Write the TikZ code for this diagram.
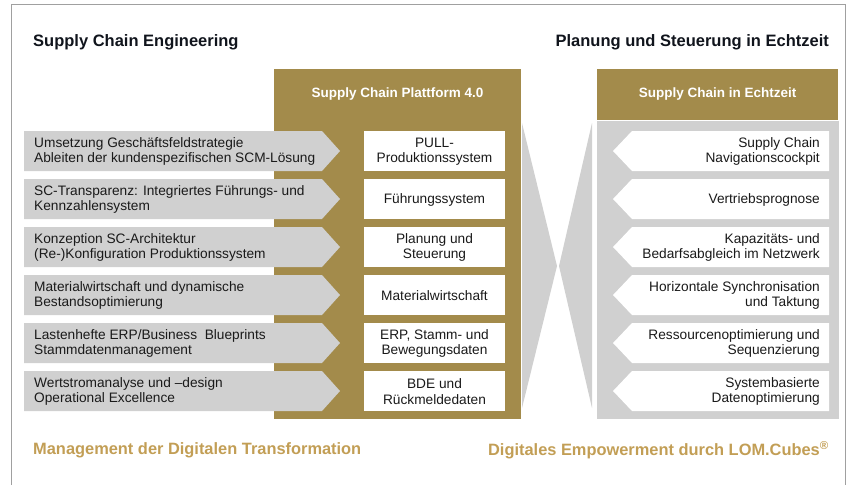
\documentclass[tikz,border=0pt]{standalone}
\usepackage{fontspec}
\setmainfont{Liberation Sans}
\definecolor{gold}{HTML}{A38B4B}
\definecolor{goldtext}{HTML}{C29E55}
\definecolor{lightgrey}{HTML}{D0D0D0}
\definecolor{framegrey}{HTML}{A0A0A0}
\definecolor{txt}{HTML}{1A1A1A}
\definecolor{titletxt}{HTML}{10141C}
\tikzset{
  rowtext/.style={inner sep=0pt, text=txt, font=\fontsize{13.7}{15.5}\selectfont},
  lefttext/.style={rowtext, anchor=west, align=left},
  midtext/.style={rowtext, anchor=center, align=center},
  righttext/.style={rowtext, anchor=east, align=right},
  headtext/.style={inner sep=0pt, text=white, font=\bfseries\fontsize{13.5}{16}\selectfont},
  titletext/.style={inner sep=0pt, text=titletxt, font=\bfseries\fontsize{16.5}{19}\selectfont},
  foottext/.style={inner sep=0pt, text=goldtext, font=\bfseries\fontsize{16.4}{19}\selectfont},
}
\begin{document}
\begin{tikzpicture}[x=1pt,y=-1pt]
\useasboundingbox (0,0) rectangle (850,485);
% frame
\draw[framegrey, line width=1pt] (11,485) -- (11,4) -- (845,4) -- (845,485);
% titles
\node[titletext, anchor=west] (tl) at (33,42) {Supply Chain Engineering};
\node[titletext, anchor=east] (tr) at (829,42) {Planung und Steuerung in Echtzeit};
% panels
\fill[gold] (274,69) rectangle (521,419);
\fill[gold] (597,69) rectangle (838,120);
\fill[lightgrey] (597,121) rectangle (839,419);
\node[headtext] (hl) at (397.5,94) {Supply Chain Plattform 4.0};
\node[headtext] (hr) at (717.5,94) {Supply Chain in Echtzeit};
% hourglass triangles
\fill[lightgrey] (522,123) -- (557,266) -- (522,408) -- cycle;
\fill[lightgrey] (592,123) -- (559,266) -- (592,408) -- cycle;
% rows
\foreach \i/\lt/\mt/\rt in {
  0/{Umsetzung Geschäftsfeldstrategie\\Ableiten der kundenspezifischen SCM-Lösung}/{PULL-\\Produktionssystem}/{Supply Chain\\Navigationscockpit},
  1/{SC-Transparenz: Integriertes Führungs- und\\Kennzahlensystem}/{Führungssystem}/{Vertriebsprognose},
  2/{Konzeption SC-Architektur\\(Re-)Konfiguration Produktionssystem}/{Planung und\\Steuerung}/{Kapazitäts- und\\Bedarfsabgleich im Netzwerk},
  3/{Materialwirtschaft und dynamische\\Bestandsoptimierung}/{Materialwirtschaft}/{Horizontale Synchronisation\\und Taktung},
  4/{Lastenhefte ERP/Business\ \ Blueprints\\Stammdatenmanagement}/{ERP, Stamm- und\\Bewegungsdaten}/{Ressourcenoptimierung und\\Sequenzierung},
  5/{Wertstromanalyse und –design\\Operational Excellence}/{BDE und\\Rückmeldedaten}/{Systembasierte\\Datenoptimierung}}{
  \pgfmathsetmacro\t{131+48*\i}
  \fill[lightgrey] (24,\t) -- (322,\t) -- (340,{\t+20}) -- (322,{\t+40}) -- (24,{\t+40}) -- cycle;
  \fill[white] (364,\t) rectangle (505,{\t+40});
  \fill[white] (829,\t) -- (632,\t) -- (613,{\t+20}) -- (632,{\t+40}) -- (829,{\t+40}) -- cycle;
  \node[lefttext] (l\i) at (34,{\t+20.5}) {\lt};
  \node[midtext] (m\i) at (434.5,{\t+20.5}) {\mt};
  \node[righttext] (r\i) at (820,{\t+20.5}) {\rt};
}
% footers
\node[foottext, anchor=west] (fl) at (33,450) {Management der Digitalen Transformation};
\node[foottext, anchor=east] (fr) at (829,450) {Digitales Empowerment durch LOM.Cubes\textsuperscript{®}};
\end{tikzpicture}
\end{document}
